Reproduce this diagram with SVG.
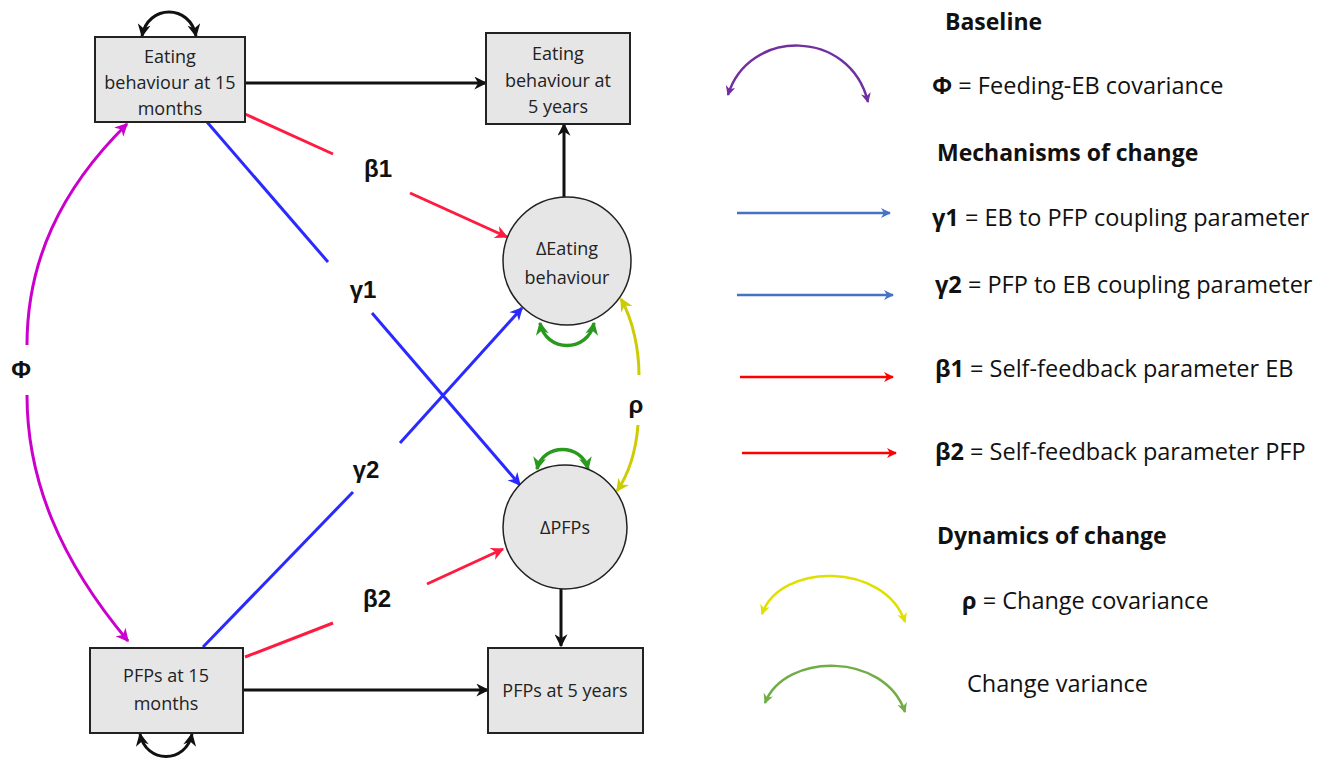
<svg xmlns="http://www.w3.org/2000/svg" width="1330" height="758" viewBox="0 0 1330 758">
<style>
.box{fill:#e6e6e6;stroke:#222;stroke-width:2}
.circ{fill:#e6e6e6;stroke:#222;stroke-width:1.5}
.nt{font-family:"Open Sans","Liberation Sans",sans-serif;font-size:18px;fill:#222;text-anchor:middle}
.lab{font-family:"Liberation Sans",Arial,sans-serif;font-size:24px;font-weight:bold;fill:#111;text-anchor:middle}
.lt{font-family:"Open Sans","Liberation Sans",sans-serif;font-size:23.5px;fill:#111}
.lh{font-family:"Open Sans","Liberation Sans",sans-serif;font-size:23px;font-weight:bold;fill:#111}
.b{font-weight:bold}
.k{fill:none;stroke:#111;stroke-width:3}
.r{fill:none;stroke:#ff1a40;stroke-width:3}
.bl{fill:none;stroke:#2a2aff;stroke-width:3}
.m{fill:none;stroke:#cc00cc;stroke-width:3}
.g{fill:none;stroke:#2a9a1e;stroke-width:3.5}
.y{fill:none;stroke:#cccc00;stroke-width:3}
.lb{fill:none;stroke:#4472c4;stroke-width:2.5}
.lr{fill:none;stroke:#ff0000;stroke-width:2.5}
.lp{fill:none;stroke:#7030a0;stroke-width:2.5}
.ly{fill:none;stroke:#e0e000;stroke-width:2.5}
.lg{fill:none;stroke:#70ad47;stroke-width:2.5}
</style>
<defs>
<marker id="aK" viewBox="0 0 10 10" refX="9" refY="5" markerUnits="userSpaceOnUse" markerWidth="15" markerHeight="13" orient="auto-start-reverse"><path d="M0,0 L10,5 L0,10 L3,5 z" fill="#111"/></marker>
<marker id="aR" viewBox="0 0 10 10" refX="9" refY="5" markerUnits="userSpaceOnUse" markerWidth="15" markerHeight="13" orient="auto-start-reverse"><path d="M0,0 L10,5 L0,10 L3,5 z" fill="#ff1a40"/></marker>
<marker id="aB" viewBox="0 0 10 10" refX="9" refY="5" markerUnits="userSpaceOnUse" markerWidth="15" markerHeight="13" orient="auto-start-reverse"><path d="M0,0 L10,5 L0,10 L3,5 z" fill="#2a2aff"/></marker>
<marker id="aM" viewBox="0 0 10 10" refX="9" refY="5" markerUnits="userSpaceOnUse" markerWidth="15" markerHeight="13" orient="auto-start-reverse"><path d="M0,0 L10,5 L0,10 L3,5 z" fill="#cc00cc"/></marker>
<marker id="aG" viewBox="0 0 10 10" refX="9" refY="5" markerUnits="userSpaceOnUse" markerWidth="15" markerHeight="13" orient="auto-start-reverse"><path d="M0,0 L10,5 L0,10 L3,5 z" fill="#2a9a1e"/></marker>
<marker id="aY" viewBox="0 0 10 10" refX="9" refY="5" markerUnits="userSpaceOnUse" markerWidth="15" markerHeight="13" orient="auto-start-reverse"><path d="M0,0 L10,5 L0,10 L3,5 z" fill="#cccc00"/></marker>
<marker id="lB" viewBox="0 0 10 10" refX="9" refY="5" markerUnits="userSpaceOnUse" markerWidth="11" markerHeight="10" orient="auto-start-reverse"><path d="M0,0 L10,5 L0,10 L3,5 z" fill="#4472c4"/></marker>
<marker id="lR" viewBox="0 0 10 10" refX="9" refY="5" markerUnits="userSpaceOnUse" markerWidth="11" markerHeight="10" orient="auto-start-reverse"><path d="M0,0 L10,5 L0,10 L3,5 z" fill="#ff0000"/></marker>
<marker id="lP" viewBox="0 0 10 10" refX="9" refY="5" markerUnits="userSpaceOnUse" markerWidth="11" markerHeight="10" orient="auto-start-reverse"><path d="M0,0 L10,5 L0,10 L3,5 z" fill="#7030a0"/></marker>
<marker id="lY" viewBox="0 0 10 10" refX="9" refY="5" markerUnits="userSpaceOnUse" markerWidth="11" markerHeight="10" orient="auto-start-reverse"><path d="M0,0 L10,5 L0,10 L3,5 z" fill="#e0e000"/></marker>
<marker id="lG" viewBox="0 0 10 10" refX="9" refY="5" markerUnits="userSpaceOnUse" markerWidth="11" markerHeight="10" orient="auto-start-reverse"><path d="M0,0 L10,5 L0,10 L3,5 z" fill="#70ad47"/></marker>
</defs>
<rect width="1330" height="758" fill="#fff"/>

<g id="connectors">
<path class="k" d="M245,83 L486,83" marker-end="url(#aK)"/>
<path class="k" d="M243,690 L488,690" marker-end="url(#aK)"/>
<path class="k" d="M564,197 L564,124" marker-end="url(#aK)"/>
<path class="k" d="M561,589 L561,646" marker-end="url(#aK)"/>
<path class="k" d="M142,36 C148,4 190,4 196,36" marker-start="url(#aK)" marker-end="url(#aK)"/>
<path class="k" d="M140,734 C146,764 186,764 192,734" marker-start="url(#aK)" marker-end="url(#aK)"/>
<path class="r" d="M245,114 L333,154"/>
<path class="r" d="M410,193 L507,237" marker-end="url(#aR)"/>
<path class="bl" d="M207,122 L328,262"/>
<path class="bl" d="M372,313 L520,485" marker-end="url(#aB)"/>
<path class="bl" d="M203,647 L353,492"/>
<path class="bl" d="M400,443 L522,308" marker-end="url(#aB)"/>
<path class="r" d="M245,657 L333,623"/>
<path class="r" d="M427,584 L503,549" marker-end="url(#aR)"/>
<path class="m" d="M27,345 C27,262 60,190 127,124" marker-end="url(#aM)"/>
<path class="m" d="M27,395 C27,480 60,560 128,641" marker-end="url(#aM)"/>
<path class="y" d="M639,375 C639,350 633,320 621,299" marker-end="url(#aY)"/>
<path class="y" d="M638,425 C636,450 630,472 617,491" marker-end="url(#aY)"/>
<path class="g" d="M540,323 C546,353 588,353 594,323" marker-start="url(#aG)" marker-end="url(#aG)"/>
<path class="g" d="M537,469 C543,443 582,443 588,469" marker-start="url(#aG)" marker-end="url(#aG)"/>
</g>

<g id="labels">
<text class="lab" x="378" y="177">β1</text>
<text class="lab" x="363" y="298">γ1</text>
<text class="lab" x="366" y="478">γ2</text>
<text class="lab" x="377" y="607">β2</text>
<text class="lab" x="636" y="413">ρ</text>
<text class="lab" x="21" y="378">Φ</text>
</g>

<g id="node-eb15">
<rect class="box" x="95" y="37" width="150" height="85"/>
<text class="nt" x="170" y="63">Eating</text>
<text class="nt" x="170" y="89">behaviour at 15</text>
<text class="nt" x="170" y="115">months</text>
</g>
<g id="node-eb5">
<rect class="box" x="486" y="33" width="144" height="91"/>
<text class="nt" x="558" y="60">Eating</text>
<text class="nt" x="558" y="87">behaviour at</text>
<text class="nt" x="558" y="113">5 years</text>
</g>
<g id="node-deb">
<circle class="circ" cx="567" cy="261" r="64"/>
<text class="nt" x="567" y="255">ΔEating</text>
<text class="nt" x="567" y="284">behaviour</text>
</g>
<g id="node-dpfp">
<circle class="circ" cx="565" cy="527" r="62"/>
<text class="nt" x="565" y="534">ΔPFPs</text>
</g>
<g id="node-pfp15">
<rect class="box" x="90" y="648" width="153" height="85"/>
<text class="nt" x="166" y="682">PFPs at 15</text>
<text class="nt" x="166" y="710">months</text>
</g>
<g id="node-pfp5">
<rect class="box" x="488" y="648" width="155" height="85"/>
<text class="nt" x="565" y="697">PFPs at 5 years</text>
</g>

<g id="legend">
<text class="lh" x="945" y="30">Baseline</text>
<path class="lp" d="M728,95 C748,28 850,28 868,102" marker-start="url(#lP)" marker-end="url(#lP)"/>
<text class="lt" x="932" y="94"><tspan class="b">Φ</tspan> = Feeding-EB covariance</text>
<text class="lh" x="937" y="161">Mechanisms of change</text>
<path class="lb" d="M737,213 L890,213" marker-end="url(#lB)"/>
<text class="lt" x="932" y="226"><tspan class="b">γ1</tspan> = EB to PFP coupling parameter</text>
<path class="lb" d="M737,295 L893,295" marker-end="url(#lB)"/>
<text class="lt" x="935" y="293"><tspan class="b">γ2</tspan> = PFP to EB coupling parameter</text>
<path class="lr" d="M740,377 L893,377" marker-end="url(#lR)"/>
<text class="lt" x="935" y="377"><tspan class="b">β1</tspan> = Self-feedback parameter EB</text>
<path class="lr" d="M742,453 L896,453" marker-end="url(#lR)"/>
<text class="lt" x="935" y="460"><tspan class="b">β2</tspan> = Self-feedback parameter PFP</text>
<text class="lh" x="937" y="544">Dynamics of change</text>
<path class="ly" d="M762,614 C780,562 885,562 905,622" marker-start="url(#lY)" marker-end="url(#lY)"/>
<text class="lt" x="962" y="609"><tspan class="b">ρ</tspan> = Change covariance</text>
<path class="lg" d="M765,703 C785,652 885,652 905,712" marker-start="url(#lG)" marker-end="url(#lG)"/>
<text class="lt" x="967" y="692">Change variance</text>
</g>
</svg>
